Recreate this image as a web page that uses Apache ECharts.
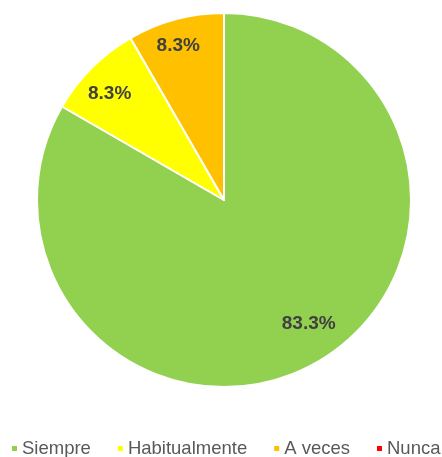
<!DOCTYPE html>
<html>
<head>
<meta charset="utf-8">
<style>
  html, body { margin: 0; padding: 0; background: #fff; }
  #chart { width: 442px; height: 457px; }
</style>
<script src="https://cdn.jsdelivr.net/npm/echarts@6/dist/echarts.min.js"></script>
</head>
<body>
<div id="chart"></div>
<script>
// Response frequency breakdown
const categories = ['Siempre', 'Habitualmente', 'A veces', 'Nunca'];
const counts = [10, 1, 1, 0];
const colors = ['#92D050', '#FFFF00', '#FFC000', '#FF0000'];

const total = counts.reduce((a, b) => a + b, 0);
const CX = 224, CY = 200, R = 187;

const chart = echarts.init(document.getElementById('chart'), null, { renderer: 'canvas' });

const data = categories.map((name, i) => ({
  name: name,
  value: counts[i],
  itemStyle: { color: colors[i] },
  label: { show: counts[i] > 0 }
}));

// per-slice label placement: radial scale and small angular nudge (degrees)
const labelScale = [1.55, 1.62, 1.67, 1.6];
const labelTurn = [-4.5, -2, -1.5, 0];

chart.setOption({
  animation: false,
  legend: {
    left: 5,
    top: 434,
    width: 470,
    icon: 'rect',
    itemWidth: 7,
    itemHeight: 7,
    itemGap: 25,
    selectedMode: false,
    textStyle: { fontFamily: 'Liberation Sans, Arial, sans-serif', fontSize: 18.5, color: '#595959', padding: [0, 0, 0, -1] },
    data: categories
  },
  series: [{
    type: 'pie',
    center: [CX, CY],
    radius: [0, R],
    startAngle: 90,
    clockwise: true,
    avoidLabelOverlap: false,
    itemStyle: { borderColor: '#ffffff', borderWidth: 2 },
    label: {
      position: 'inside',
      fontFamily: 'Liberation Sans, Arial, sans-serif',
      fontSize: 19,
      fontWeight: 'bold',
      color: '#404040',
      formatter: p => (p.value / total * 100).toFixed(1) + '%'
    },
    labelLine: { show: false },
    // push the inside labels further out along each slice's bisector
    labelLayout: function (p) {
      const r = p.labelRect;
      const vx = r.x + r.width / 2 - CX, vy = r.y + r.height / 2 - CY;
      const k = labelScale[p.dataIndex];
      const a = labelTurn[p.dataIndex] * Math.PI / 180;
      const rx = vx * Math.cos(a) - vy * Math.sin(a);
      const ry = vx * Math.sin(a) + vy * Math.cos(a);
      return { x: CX + rx * k, y: CY + ry * k };
    },
    data: data
  }]
});
</script>
</body>
</html>
